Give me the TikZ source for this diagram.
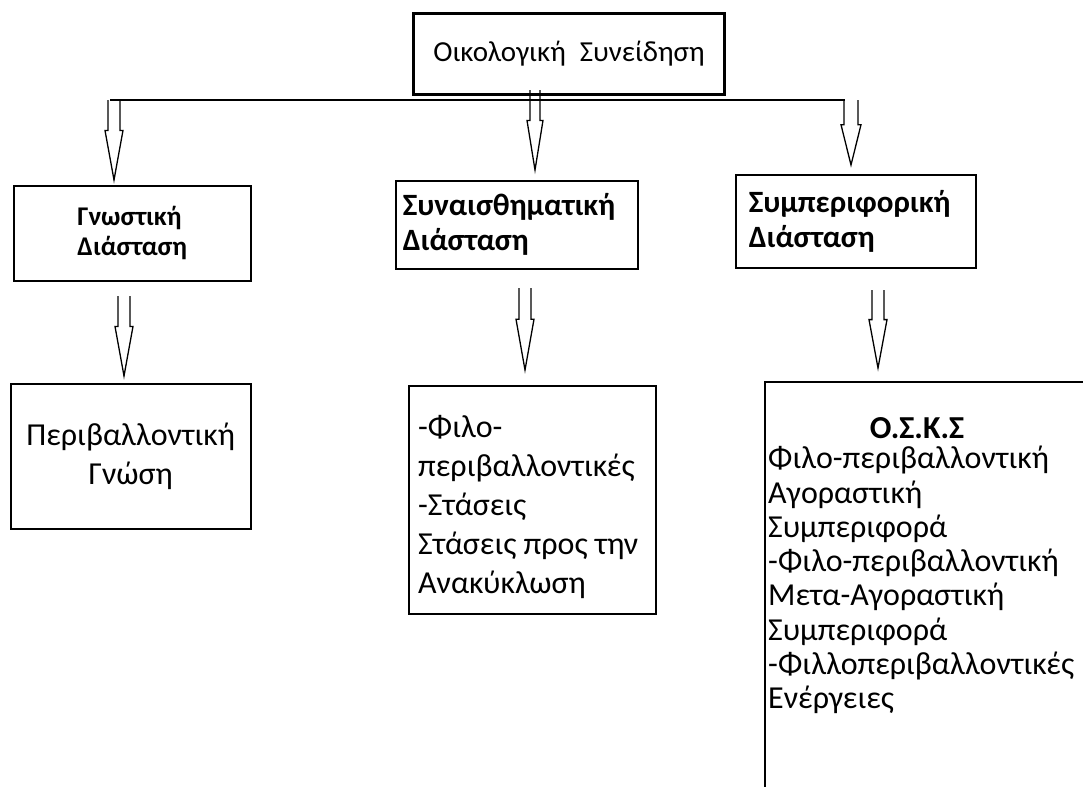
\documentclass[tikz,border=0pt]{standalone}
\usepackage{fontspec}
\setmainfont{Carlito}
\usetikzlibrary{positioning}
\newcommand{\topfont}{\fontsize{29}{32}\selectfont}
\newcommand{\headfont}{\fontsize{31}{35}\selectfont\bfseries}
\newcommand{\smallhead}{\fontsize{27}{30}\selectfont\bfseries}
\newcommand{\bodyfont}{\fontsize{32}{39}\selectfont}
\newcommand{\listfont}{\fontsize{32}{34.3}\selectfont}
\tikzset{
  box/.style={draw,line width=1.5pt,inner sep=0pt,anchor=north west},
  arrowline/.style={line width=1.3pt,line join=miter},
  pics/openarrow/.style 2 args={code={
    \draw[arrowline] (-#2,0) -- (-#2,0.38*#1) -- (-#2-3,0.38*#1) -- (0,#1)
      -- (#2+3,0.38*#1) -- (#2,0.38*#1) -- (#2,0);
  }}
}
\begin{document}
\begin{tikzpicture}[x=1pt,y=-1pt]
			\useasboundingbox (0,0) rectangle (1083,787);
			% top box and the bar under it
			\node[box,line width=3pt,minimum width=311pt,minimum height=81pt,font=\topfont] (eco) at (412,12) {Οικολογική\hspace{14pt}Συνείδηση};
			\coordinate (barW) at (110,100);
			\coordinate (barE) at (845,100);
			\draw[line width=1.5pt] (barW) -- (barE);
			
			% second row
			\node[box,minimum width=237pt,minimum height=95pt,align=left,font=\smallhead] (gnw) at (13,185) {Γνωστική\\Διάσταση};
			\node[box,minimum width=242pt,minimum height=88pt,text width=228pt,align=left,font=\headfont] (syn) at (395,180) {Συναισθηματική\\Διάσταση};
			\node[box,minimum width=240pt,minimum height=93pt,text width=214pt,align=left,font=\headfont] (sym) at (735,174) {Συμπεριφορική\\Διάσταση};
			
			% third row
			\node[box,minimum width=240pt,minimum height=145pt,align=center,font=\bodyfont] (gnosi) at (10,383) {Περιβαλλοντική\\Γνώση};
			\node[box,minimum width=247pt,minimum height=228pt] (stas) at (408,385) {};
			\node[below right=30pt and 10pt of stas.north west,inner sep=0pt,align=left,font=\bodyfont] (stasT) {-Φιλο-\\περιβαλλοντικές\\-Στάσεις\\Στάσεις προς την\\Ανακύκλωση};
			\coordinate (osksNW) at (765,382);
			\draw[line width=1.5pt] (1083,382) -- (osksNW) -- (765,787);
			\node[font=\listfont\bfseries] (osks) at (917,428) {Ο.Σ.Κ.Σ};
			\node[anchor=north west,inner sep=0pt,align=left,font=\listfont] (osksT) at (768,446) {Φιλο-περιβαλλοντική\\Αγοραστική\\Συμπεριφορά\\-Φιλο-περιβαλλοντική\\Μετα-Αγοραστική\\Συμπεριφορά\\-Φιλλοπεριβαλλοντικές\\Ενέργειες};
			
			% hollow arrows
			\foreach \x/\y/\l/\w in {114/100/80/6,535/90/80/5,851/100/65/7,124/296/80/6,525/288/82/6,878/290/78/6}
			\pic at (\x,\y) {openarrow={\l}{\w}};
		\end{tikzpicture}
\end{document}
